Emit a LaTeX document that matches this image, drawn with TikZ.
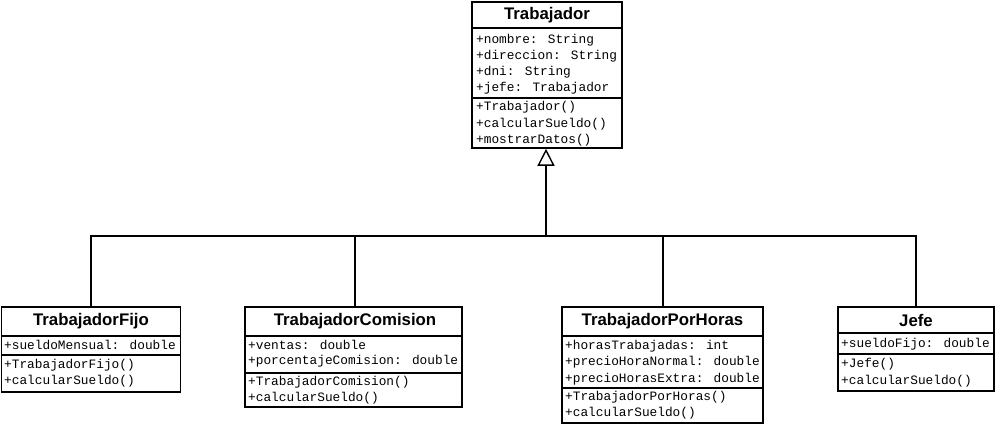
\documentclass[tikz,border=0pt]{standalone}
\usepackage{fontspec}
\setmainfont{Liberation Sans}
\newfontfamily\monof{Liberation Mono}
\usetikzlibrary{arrows.meta}
\tikzset{
  cls/.style={draw=black, line width=1.6pt, fill=white, inner sep=0pt},
  sepline/.style={line width=1.4pt},
  ttl/.style={font=\fontsize{16.8}{19}\selectfont\bfseries, inner sep=0pt},
  mem/.style={font=\monof\fontsize{12.8}{16}\selectfont, anchor=west, inner sep=0pt},
  conn/.style={line width=1.8pt},
  inherit/.style={conn, -{Triangle[open, length=17pt, width=17pt, line width=1.4pt]}},
}
\begin{document}
\begin{tikzpicture}[x=1pt,y=-1pt]
\useasboundingbox (0,0) rectangle (998,427);

% Trabajador
\node[cls, minimum width=150pt, minimum height=146pt] (trab) at (547,75) {};
\node[ttl] (trabT) at (547,15) {Trabajador};
\draw[sepline] (472,28) -- (622,28);
\draw[sepline] (472,98) -- (622,98);
\node[mem] (trab1) at (476,40) {+nombre: String};
\node[mem] (trab2) at (476,56) {+direccion: String};
\node[mem] (trab3) at (476,72) {+dni: String};
\node[mem] (trab4) at (476,88) {+jefe: Trabajador};
\node[mem] (trab5) at (476,107) {+Trabajador()};
\node[mem] (trab6) at (476,124) {+calcularSueldo()};
\node[mem] (trab7) at (476,140) {+mostrarDatos()};

% TrabajadorFijo
\node[cls, minimum width=179pt, minimum height=85pt] (tf) at (91,349.5) {};
\node[ttl] (tfT) at (91,321) {TrabajadorFijo};
\draw[sepline] (1.5,336) -- (180.5,336);
\draw[sepline] (1.5,355) -- (180.5,355);
\node[mem] (tf1) at (4,345) {+sueldoMensual: double};
\node[mem] (tf2) at (4,365) {+TrabajadorFijo()};
\node[mem] (tf3) at (4,381) {+calcularSueldo()};

% TrabajadorComision
\node[cls, minimum width=217pt, minimum height=100pt] (tc) at (353.5,357) {};
\node[ttl] (tcT) at (355,321) {TrabajadorComision};
\draw[sepline] (245,336) -- (462,336);
\draw[sepline] (245,373) -- (462,373);
\node[mem] (tc1) at (248,345) {+ventas: double};
\node[mem] (tc2) at (248,361) {+porcentajeComision: double};
\node[mem] (tc3) at (248,382) {+TrabajadorComision()};
\node[mem] (tc4) at (248,398) {+calcularSueldo()};

% TrabajadorPorHoras
\node[cls, minimum width=201pt, minimum height=116pt] (tph) at (662.5,365) {};
\node[ttl] (tphT) at (662.5,321) {TrabajadorPorHoras};
\draw[sepline] (562,336) -- (763,336);
\draw[sepline] (562,388) -- (763,388);
\node[mem] (tph1) at (565,346) {+horasTrabajadas: int};
\node[mem] (tph2) at (565,362.5) {+precioHoraNormal: double};
\node[mem] (tph3) at (565,379) {+precioHorasExtra: double};
\node[mem] (tph4) at (565,397) {+TrabajadorPorHoras()};
\node[mem] (tph5) at (565,413) {+calcularSueldo()};

% Jefe
\node[cls, minimum width=156pt, minimum height=84pt] (jefe) at (916,349) {};
\node[ttl] (jefeT) at (916,320) {Jefe};
\draw[sepline] (838,333) -- (994,333);
\draw[sepline] (838,354) -- (994,354);
\node[mem] (jefe1) at (841,344) {+sueldoFijo: double};
\node[mem] (jefe2) at (841,364) {+Jefe()};
\node[mem] (jefe3) at (841,381) {+calcularSueldo()};

% connectors
\coordinate (bus) at (546,236);
\draw[conn] (tf.north) |- (bus);
\draw[conn] ([xshift=1.5pt]tc.north) |- (bus);
\draw[conn] ([xshift=0.5pt]tph.north) |- (bus);
\draw[conn] (jefe.north) |- (bus);
\draw[inherit] (bus) -- (bus |- trab.south);
\end{tikzpicture}
\end{document}
